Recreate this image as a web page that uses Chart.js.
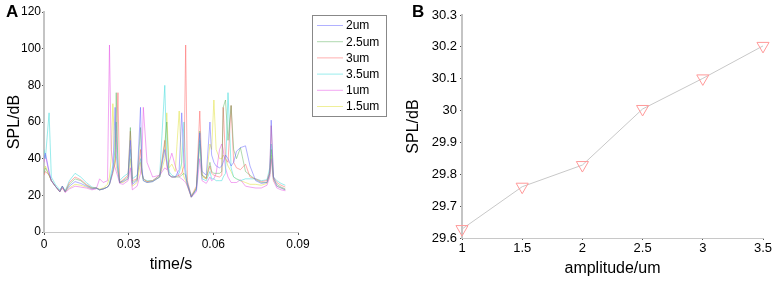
<!DOCTYPE html>
<html>
<head>
<meta charset="utf-8">
<script src="https://cdn.jsdelivr.net/npm/chart.js@4.4.0/dist/chart.umd.min.js"></script>
<style>
  body { margin: 0; background: #fff; width: 778px; height: 281px; overflow: hidden; position: relative; font-family: "Liberation Sans", Arial, sans-serif; }
  .panel { position: absolute; top: 0; height: 281px; }
  .tag { position: absolute; font-weight: bold; font-size: 17px; color: #000; }
</style>
</head>
<body>
<div class="panel" style="left:0;width:400px"><canvas id="leftChart" width="400" height="281"></canvas></div>
<div class="panel" style="left:400px;width:378px"><canvas id="rightChart" width="378" height="281"></canvas></div>
<div class="tag" style="left:6px;top:2px">A</div>
<div class="tag" style="left:412px;top:2px">B</div>
<script>
// panel A: time axis (s)
const time = [0, 0.0005, 0.0018, 0.0026, 0.004, 0.0056, 0.0065, 0.0075, 0.009, 0.011,
  0.013, 0.015, 0.017, 0.0185, 0.0197, 0.021, 0.0225, 0.0232, 0.0238, 0.0244,
  0.0252, 0.0256, 0.0262, 0.0268, 0.028, 0.0298, 0.0306, 0.0313, 0.033, 0.0342,
  0.0347, 0.0352, 0.0365, 0.0385, 0.041, 0.0428, 0.0435, 0.0443, 0.0453, 0.0465,
  0.0479, 0.0488, 0.0496, 0.0502, 0.0508, 0.0522, 0.054, 0.0552, 0.056, 0.0575,
  0.0588, 0.0594, 0.0602, 0.061, 0.0622, 0.063, 0.0635, 0.0643, 0.0652, 0.0663,
  0.0672, 0.0682, 0.0696, 0.0714, 0.073, 0.075, 0.077, 0.079, 0.08, 0.0805,
  0.0813, 0.0825, 0.084, 0.0855];

// SPL/dB for each amplitude
const spl2um = [40, 43, 33, 28, 25, 22, 25, 22, 25, 27.5,
  26.5, 25, 23.5, 24, 23, 23.5, 24.5, 26, 29, 34,
  68, 42, 33, 27, 27.5, 29, 50, 26, 28, 68,
  35, 28, 27, 27.5, 30, 45, 38, 31, 30, 30,
  34, 65, 38, 30, 26, 19, 23, 54, 33, 31,
  60, 42, 38, 36, 35, 36, 38, 42, 40, 36,
  38, 44, 46, 47, 36, 28, 26.5, 27, 32, 61,
  30, 25, 24, 23];
const spl25um = [32, 35, 31, 28, 25, 22, 25, 22, 26, 29,
  28, 25.5, 24, 24, 23, 23.5, 24.5, 26, 30, 33,
  40, 76, 35, 27, 28, 30, 57, 27, 28.5, 57,
  33, 28, 27, 27.5, 30, 48, 60, 31, 30, 30,
  30, 31, 32, 31, 26, 19, 24, 55, 31, 29.5,
  38, 33, 32, 32, 32, 33, 68, 72, 50, 69,
  45, 40, 46, 33, 31, 28.5, 27, 27, 32, 45,
  29, 26, 24.5, 23.5];
const spl3um = [31, 33, 31, 28, 25, 22, 25, 22, 27, 30,
  28.5, 26, 24, 24, 23, 23.5, 24.5, 26, 29, 32,
  38, 45, 76, 27, 28.5, 31, 55, 28, 29, 45,
  32, 29, 27.5, 28, 31, 50, 36, 31, 30, 30,
  31, 32, 36, 102, 28, 19.5, 25, 66, 31, 29,
  36, 32, 31, 30.5, 30, 31, 68, 40, 38, 69,
  38, 35, 34, 37, 30, 29, 27.5, 28, 33, 58,
  30, 27, 25.5, 24.5];
const spl35um = [45, 40, 65, 30, 26, 23, 25, 22.5, 28, 32,
  30, 27, 24.5, 24, 23, 23.5, 24.5, 26, 32, 36,
  45, 60, 38, 28, 30, 32, 45, 29, 31, 40,
  33, 29, 28, 28, 31, 80, 40, 33, 31, 30,
  32, 38, 60, 34, 27, 20, 23, 50, 29, 28,
  33, 29, 29, 28, 28, 28, 30, 32, 76, 35,
  30, 29, 28, 29, 29, 29, 28, 28.5, 35, 48,
  30, 28, 26.5, 25.5];
const spl1um = [38, 42, 32, 28, 25, 22, 24, 21.5, 23.5, 25,
  24.5, 24, 23, 23.5, 29, 27, 28, 102, 45, 38,
  35, 33, 30, 26.5, 26, 28, 35, 23, 25, 32,
  40, 68, 38, 30, 31, 35, 34, 38, 43, 36,
  30, 29, 28, 27, 25, 19, 22, 40, 28, 26.5,
  30, 28, 29, 32, 45, 48, 45, 35, 30, 27,
  27, 27, 28.5, 25, 24.5, 24, 24, 25.5, 30, 40,
  28, 24, 23, 22.5];
const spl15um = [34, 36, 31, 28, 25, 22, 24, 22, 24, 26,
  25.5, 24.5, 23.5, 24, 23.5, 24, 26, 30, 40, 70,
  40, 36, 32, 27, 27, 29, 40, 25, 27, 38,
  32, 29, 27.5, 28, 30, 40, 65, 35, 37, 33,
  66, 36, 30, 28, 25, 19, 24, 48, 30, 29,
  48, 45, 72, 45, 40, 40, 42, 40, 36, 33,
  30, 29, 28, 27, 26, 26, 25.5, 26.5, 31, 42,
  28, 25, 24, 23];

const seriesLabels = ['2um', '2.5um', '3um', '3.5um', '1um', '1.5um'];
const seriesColors = ['rgba(100,100,255,0.5)', 'rgba(80,170,80,0.45)', 'rgba(255,80,80,0.45)',
  'rgba(70,220,220,0.55)', 'rgba(230,80,230,0.5)', 'rgba(225,225,70,0.55)'];
const seriesValues = [spl2um, spl25um, spl3um, spl35um, spl1um, spl15um];

// panel B
const amplitude = [1, 1.5, 2, 2.5, 3, 3.5];
const meanSpl = [29.628, 29.761, 29.829, 30.005, 30.101, 30.203];

const font = 'Liberation Sans';

// boxed legend drawn like the matlab one
const boxLegend = {
    id: 'boxLegend',
    afterDraw(chart) {
        const ctx = chart.ctx;
        ctx.save();
        ctx.strokeStyle = '#888';
        ctx.lineWidth = 1;
        ctx.strokeRect(312.5, 15.5, 74, 101);
        ctx.font = '12px ' + font;
        ctx.textBaseline = 'middle';
        ctx.fillStyle = '#000';
        chart.data.datasets.forEach((ds, i) => {
            const y = 25.5 + i * 16.2;
            ctx.strokeStyle = ds.borderColor;
            ctx.beginPath();
            ctx.moveTo(317, y);
            ctx.lineTo(343, y);
            ctx.stroke();
            ctx.fillText(ds.label, 346, y + 0.5);
        });
        ctx.restore();
    }
};

new Chart(document.getElementById('leftChart'), {
    type: 'line',
    data: {
        datasets: seriesLabels.map((label, i) => ({
            label: label,
            data: time.map((t, j) => ({ x: t, y: seriesValues[i][j] })),
            borderColor: seriesColors[i],
            borderWidth: 1,
            pointRadius: 0,
            tension: 0,
        })),
    },
    options: {
        responsive: false,
        animation: false,
        layout: { padding: { top: 12, right: 102, left: 0, bottom: 0 } },
        plugins: { legend: { display: false }, tooltip: { enabled: false } },
        scales: {
            x: {
                type: 'linear',
                min: 0,
                max: 0.09,
                afterFit: (s) => { s.height = 49; },
                ticks: {
                    stepSize: 0.03,
                    color: '#000',
                    font: { family: font, size: 12 },
                    padding: 2,
                    maxRotation: 0,
                    callback: (v) => Number(v.toFixed(2)).toString(),
                },
                grid: { display: true, drawOnChartArea: false, tickLength: 3, color: '#555' },
                border: { color: '#c8c8c8', width: 1 },
                title: { display: true, text: 'time/s', color: '#000', font: { family: font, size: 16 }, padding: { bottom: 7 } },
            },
            y: {
                min: 0,
                max: 120,
                afterFit: (s) => { s.width = 44; },
                ticks: {
                    stepSize: 20,
                    color: '#000',
                    font: { family: font, size: 12 },
                    padding: 1,
                },
                grid: { display: true, drawOnChartArea: false, tickLength: 2, color: '#555' },
                border: { color: '#c4c4c4', width: 2 },
                title: { display: true, text: 'SPL/dB', color: '#000', font: { family: font, size: 16 }, padding: { top: 5 } },
            },
        },
    },
    plugins: [boxLegend],
});

new Chart(document.getElementById('rightChart'), {
    type: 'line',
    data: {
        labels: amplitude,
        datasets: [{
            label: 'SPL',
            data: amplitude.map((a, i) => ({ x: a, y: meanSpl[i] })),
            borderColor: '#c8c8c8',
            borderWidth: 1,
            tension: 0,
            clip: false,
            pointStyle: 'triangle',
            rotation: 180,
            pointRadius: 7,
            pointBorderColor: '#ff9a9a',
            pointBackgroundColor: 'rgba(255,255,255,0)',
            pointBorderWidth: 1,
        }],
    },
    options: {
        responsive: false,
        animation: false,
        layout: { padding: { top: 15, right: 15, left: 0, bottom: 0 } },
        plugins: { legend: { display: false }, tooltip: { enabled: false } },
        scales: {
            x: {
                type: 'linear',
                min: 1,
                max: 3.5,
                afterFit: (s) => { s.height = 43; },
                ticks: {
                    stepSize: 0.5,
                    color: '#000',
                    font: { family: font, size: 13 },
                    padding: 1,
                    maxRotation: 0,
                    callback: (v) => Number(v.toFixed(1)).toString(),
                },
                grid: { display: true, drawOnChartArea: false, tickLength: 2, color: '#555' },
                border: { color: '#c8c8c8', width: 1 },
                title: { display: true, text: 'amplitude/um', color: '#000', font: { family: font, size: 16 }, padding: { bottom: 3 } },
            },
            y: {
                min: 29.6,
                max: 30.3,
                afterFit: (s) => { s.width = 62; },
                ticks: {
                    stepSize: 0.1,
                    color: '#000',
                    font: { family: font, size: 13 },
                    padding: 3,
                    callback: (v) => Number(v.toFixed(1)).toString(),
                },
                grid: { display: true, drawOnChartArea: false, tickLength: 2, color: '#555' },
                border: { color: '#c4c4c4', width: 2 },
                title: { display: true, text: 'SPL/dB', color: '#000', font: { family: font, size: 16 }, padding: { top: 4 } },
            },
        },
    },
});
</script>
</body>
</html>
